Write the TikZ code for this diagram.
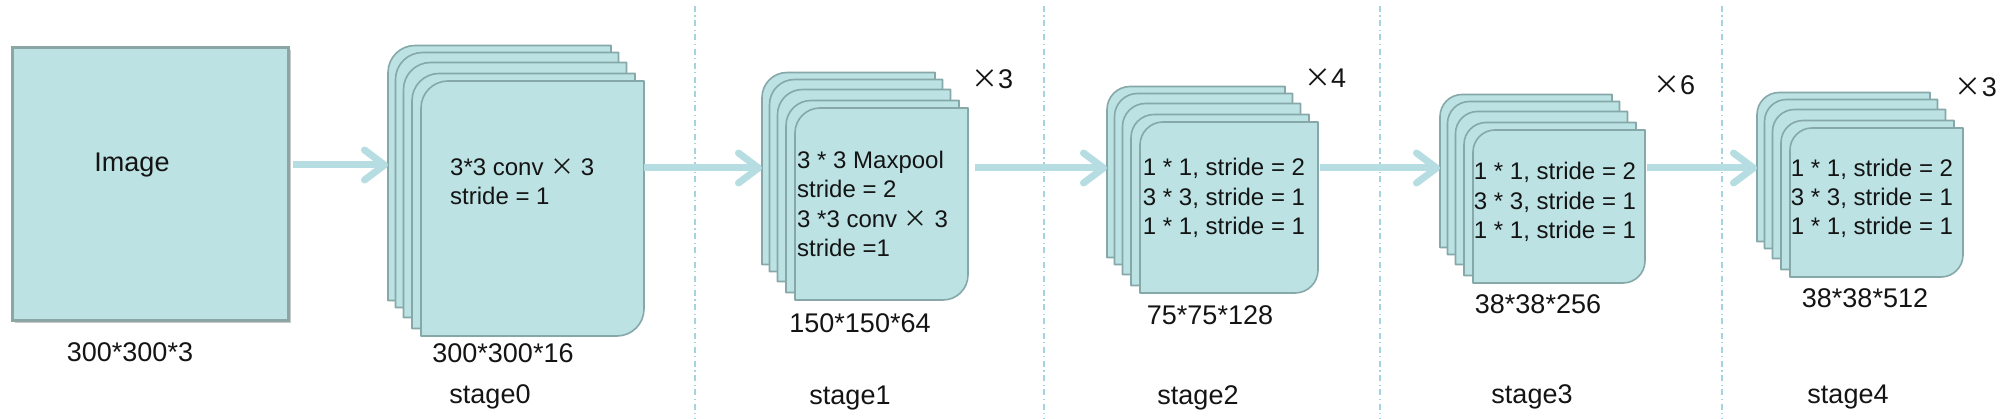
\documentclass[tikz,border=0pt]{standalone}
\usepackage{fontspec}
\setmainfont{Liberation Sans}
\newfontfamily\cjk{Noto Sans CJK SC}
\newcommand{\tms}{{\cjk\fontseries{l}\selectfont ×}}
\usetikzlibrary{arrows.meta,shadows,fit}
\definecolor{fillc}{RGB}{188,226,228}
\definecolor{edgec}{RGB}{134,168,168}
\definecolor{arrc}{RGB}{182,222,226}
\definecolor{dashc}{RGB}{165,212,222}
\definecolor{imgedge}{RGB}{140,166,166}
\definecolor{txt}{RGB}{20,20,20}
\tikzset{
  layer/.style={fill=fillc, draw=edgec, line width=1.6pt, line join=round},
  arr/.style={draw=arrc, line width=7pt, -{Straight Barb[length=20pt,width=30pt,round]}},
  sep/.style={draw=dashc, line width=1.5pt, dash pattern=on 6pt off 3.5pt on 1.2pt off 3.5pt},
  lbl/.style={font=\fontsize{27}{32}\selectfont, inner sep=0pt, text=txt},
  body/.style={font=\fontsize{24}{29.3}\selectfont, inner sep=0pt, text=txt},
  ghost/.style={inner sep=0pt, outer sep=0pt, draw=none},
}
\newcommand{\lyr}[5]{%
  \pgfmathsetmacro\lyA{#1}\pgfmathsetmacro\lyB{#2}%
  \pgfmathsetmacro\lyC{#3}\pgfmathsetmacro\lyD{#4}%
  \pgfmathsetmacro\lyR{#5}\pgfmathsetmacro\lyK{0.448*#5}%
  \draw[layer] (\lyA,\lyD) -- (\lyA,\lyB+\lyR)
    .. controls (\lyA,\lyB+\lyK) and (\lyA+\lyK,\lyB) .. (\lyA+\lyR,\lyB)
    -- (\lyC,\lyB) -- (\lyC,\lyD-\lyR)
    .. controls (\lyC,\lyD-\lyK) and (\lyC-\lyK,\lyD) .. (\lyC-\lyR,\lyD) -- cycle;}
\newcommand{\stk}[5]{%
  \lyr{#1-33}{#2-35.5}{#3-33}{#4-35.5}{#5}%
  \lyr{#1-25.5}{#2-28.5}{#3-25.5}{#4-28.5}{#5}%
  \lyr{#1-17.5}{#2-18.5}{#3-17.5}{#4-18.5}{#5}%
  \lyr{#1-9}{#2-7.5}{#3-9}{#4-7.5}{#5}%
  \lyr{#1}{#2}{#3}{#4}{#5}}
\begin{document}
\begin{tikzpicture}[x=1pt,y=-1pt]
\useasboundingbox (0,0) rectangle (2000,419);
% separators
\draw[sep] (695,6) -- (695,419);
\draw[sep] (1044,6) -- (1044,419);
\draw[sep] (1380,6) -- (1380,419);
\draw[sep] (1722,6) -- (1722,419);
% input image
\node[draw=imgedge, line width=3pt, fill=fillc, minimum width=276pt, minimum height=273pt,
      inner sep=0pt, drop shadow={shadow xshift=2.5pt, shadow yshift=-2.5pt, opacity=0.35, fill=black!60}]
      (img) at (150.5,184) {};
\node[lbl] (imgt) at (132,165) {Image};
\node[lbl] (imgl) at (130,352) {300*300*3};
% stage 0
\stk{421}{81}{644}{336}{27}
\node[ghost, fit={(421,81)(644,336)}] (s0f) {};
\node[ghost, fit={(388,45.5)(611,300.5)}] (s0b) {};
\node[body, align=left, anchor=west] (t0) at (450,182) {3*3 conv \tms\ 3\\stride = 1};
\node[lbl] (l0) at (503,353) {300*300*16};
\node[lbl] (g0) at (490,397) {stage0};
% stage 1
\stk{795}{108}{968}{300}{25}
\node[ghost, fit={(795,108)(968,300)}] (s1f) {};
\node[ghost, fit={(762,72.5)(935,264.5)}] (s1b) {};
\node[body, align=left, anchor=west] (t1) at (797,204) {3 * 3 Maxpool\\stride = 2\\3 *3 conv \tms\ 3\\stride =1};
\node[lbl] (x1) at (992,79) {\tms3};
\node[lbl] (l1) at (860,323) {150*150*64};
\node[lbl] (g1) at (850,398) {stage1};
% stage 2
\stk{1140}{122}{1318}{293}{23}
\node[ghost, fit={(1140,122)(1318,293)}] (s2f) {};
\node[ghost, fit={(1107,86.5)(1285,257.5)}] (s2b) {};
\node[body, align=center] (t2) at (1224,198) {1 * 1, stride = 2\\3 * 3, stride = 1\\1 * 1, stride = 1};
\node[lbl] (x2) at (1325,78) {\tms4};
\node[lbl] (l2) at (1210,315) {75*75*128};
\node[lbl] (g2) at (1198,398) {stage2};
% stage 3
\stk{1473}{130}{1645}{283}{22}
\node[ghost, fit={(1473,130)(1645,283)}] (s3f) {};
\node[ghost, fit={(1440,94.5)(1612,247.5)}] (s3b) {};
\node[body, align=center] (t3) at (1555,202) {1 * 1, stride = 2\\3 * 3, stride = 1\\1 * 1, stride = 1};
\node[lbl] (x3) at (1674,85) {\tms6};
\node[lbl] (l3) at (1538,304) {38*38*256};
\node[lbl] (g3) at (1532,397) {stage3};
% stage 4
\stk{1790}{128}{1963}{277}{22}
\node[ghost, fit={(1790,128)(1963,277)}] (s4f) {};
\node[ghost, fit={(1757,92.5)(1930,241.5)}] (s4b) {};
\node[body, align=center] (t4) at (1872,198.5) {1 * 1, stride = 2\\3 * 3, stride = 1\\1 * 1, stride = 1};
\node[lbl, anchor=east] (x4) at (1997,87) {\tms3};
\node[lbl] (l4) at (1865,298) {38*38*512};
\node[lbl] (g4) at (1848,397) {stage4};
% arrows
\coordinate (ax0) at (0,165);
\coordinate (ax) at (0,168);
\draw[arr, shorten <=3pt] (img.east |- ax0) -- (s0b.west |- ax0);
\draw[arr] (s0f.east |- ax) -- (s1b.west |- ax);
\draw[arr, shorten <=7pt] (s1f.east |- ax) -- (s2b.west |- ax);
\draw[arr, shorten <=2pt] (s2f.east |- ax) -- (s3b.west |- ax);
\draw[arr, shorten <=2pt] (s3f.east |- ax) -- (s4b.west |- ax);
\end{tikzpicture}
\end{document}
